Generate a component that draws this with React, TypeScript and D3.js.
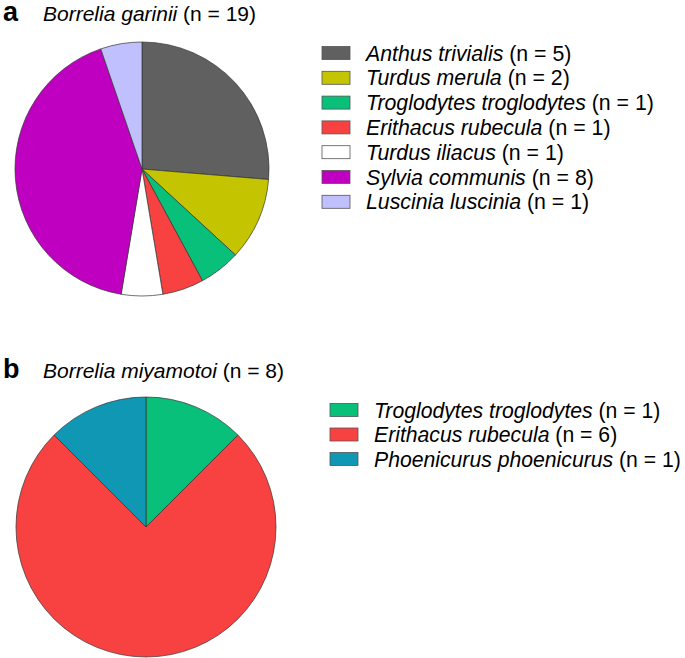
import React from "react"
import * as d3 from "d3"

// panel a: Borrelia garinii
const speciesA = [
  "Anthus trivialis",
  "Turdus merula",
  "Troglodytes troglodytes",
  "Erithacus rubecula",
  "Turdus iliacus",
  "Sylvia communis",
  "Luscinia luscinia",
]
const countsA = [5, 2, 1, 1, 1, 8, 1]
const colorsA = ["#606060", "#c4c400", "#08c07a", "#f84242", "#ffffff", "#c000c0", "#c0c0ff"]

// panel b: Borrelia miyamotoi
const speciesB = ["Troglodytes troglodytes", "Erithacus rubecula", "Phoenicurus phoenicurus"]
const countsB = [1, 6, 1]
const colorsB = ["#08c07a", "#f84242", "#1097b3"]

const font = "'Liberation Sans', Arial, sans-serif"

type PanelProps = {
  letter: string
  title: string
  total: number
  species: string[]
  counts: number[]
  colors: string[]
  top: number
  cx: number
  cy: number
  r: number
  legendX: number
  legendY: number
  rowH: number
  legendFont: number
}

const Panel = (p: PanelProps) => {
  const pie = d3.pie<number>().sort(null).value(d => d)
  const arc = d3.arc<d3.PieArcDatum<number>>().innerRadius(0).outerRadius(p.r)
  const arcs = pie(p.counts)
  return (
    <g>
      <text x={3} y={p.top} fontFamily={font} fontWeight="bold" fontSize={27}>{p.letter}</text>
      <text x={43} y={p.top} fontFamily={font} fontSize={21}>
        <tspan fontStyle="italic">{p.title}</tspan> (n = {p.total})
      </text>
      <g transform={`translate(${p.cx},${p.cy})`}>
        {arcs.map((a, i) => (
          <path key={i} d={arc(a) || ""} fill={p.colors[i]} stroke="#333" strokeWidth={0.7} />
        ))}
      </g>
      {p.species.map((s, i) => (
        <g key={s} transform={`translate(${p.legendX},${p.legendY + i * p.rowH})`}>
          <rect x={0} y={-6.5} width={28} height={13} fill={p.colors[i]} stroke="#555" strokeWidth={0.8} />
          <text x={44} y={7.5} fontFamily={font} fontSize={p.legendFont}>
            <tspan fontStyle="italic">{s}</tspan> (n = {p.counts[i]})
          </text>
        </g>
      ))}
    </g>
  )
}

export default function App() {
  return (
    <svg width={685} height={658} style={{ position: "absolute", left: 0, top: 0, background: "#fff" }}>
      <Panel
        letter="a"
        title="Borrelia garinii"
        total={d3.sum(countsA)}
        species={speciesA}
        counts={countsA}
        colors={colorsA}
        top={21}
        cx={142}
        cy={169}
        r={127}
        legendX={322}
        legendY={53}
        rowH={24.8}
        legendFont={21.3}
      />
      <Panel
        letter="b"
        title="Borrelia miyamotoi"
        total={d3.sum(countsB)}
        species={speciesB}
        counts={countsB}
        colors={colorsB}
        top={378}
        cx={146}
        cy={527}
        r={130}
        legendX={330}
        legendY={410}
        rowH={24.5}
        legendFont={21.2}
      />
    </svg>
  )
}
